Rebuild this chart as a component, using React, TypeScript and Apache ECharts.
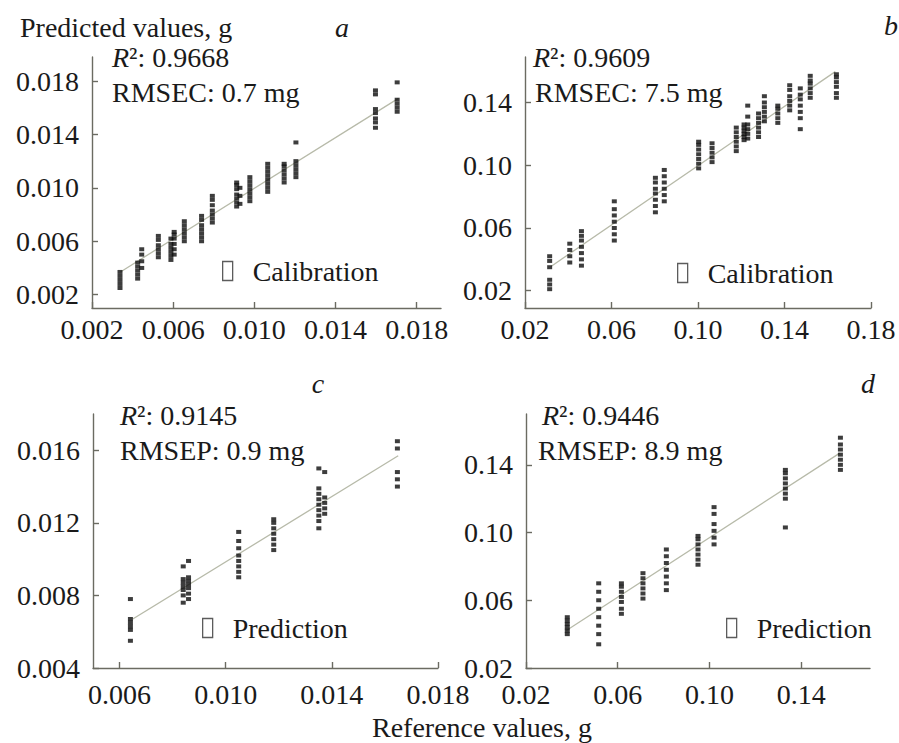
import React, { useEffect, useRef } from 'react';
import * as echarts from 'echarts';

const FONT = '"Liberation Serif", "Times New Roman", Times, serif';
const TEXT = '#1a1a1a';
const AXIS = '#6b6b62';
const DOT = '#0d0d0d';
const FIT = '#b7baa9';

// ---------- Panel a : calibration (g) ----------
const aRef = [0.00338, 0.00425, 0.00445, 0.00527, 0.00589, 0.00605, 0.00655, 0.0074, 0.00793, 0.00913, 0.00929, 0.00978, 0.01066, 0.01147, 0.01205, 0.01597, 0.01704];
const aPred = [
  [0.0025, 0.0028, 0.0031, 0.0034, 0.0037],
  [0.0032, 0.0035, 0.0038, 0.0041, 0.0044],
  [0.0040, 0.0045, 0.0050, 0.0054],
  [0.0048, 0.0051, 0.0054, 0.0057, 0.0061, 0.0064],
  [0.0046, 0.0049, 0.0052, 0.0055, 0.0058, 0.0062],
  [0.0050, 0.0054, 0.0058, 0.0062, 0.0065, 0.0067],
  [0.0060, 0.0063, 0.0066, 0.0069, 0.0072, 0.0075],
  [0.0060, 0.0063, 0.0066, 0.0069, 0.0072, 0.0076, 0.0079],
  [0.0074, 0.0077, 0.0080, 0.0083, 0.0087, 0.0091, 0.0094],
  [0.0086, 0.0089, 0.0092, 0.0095, 0.0099, 0.0102, 0.0104],
  [0.0088, 0.0094, 0.0100],
  [0.0090, 0.0093, 0.0096, 0.0099, 0.0102, 0.0105, 0.0108],
  [0.0097, 0.0100, 0.0103, 0.0106, 0.0109, 0.0112, 0.0115, 0.0118],
  [0.0104, 0.0107, 0.0110, 0.0113, 0.0116, 0.0118],
  [0.0108, 0.0111, 0.0114, 0.0117, 0.0120, 0.0134],
  [0.0145, 0.0149, 0.0152, 0.0156, 0.0159, 0.0170, 0.0173],
  [0.0157, 0.0160, 0.0163, 0.0166, 0.0179],
];
const aFitX = [0.0034, 0.0171];
const aFitY = [0.0037, 0.0167];
const aXTicks = [0.002, 0.006, 0.010, 0.014, 0.018];
const aYTicks = [0.002, 0.006, 0.010, 0.014, 0.018];

// ---------- Panel b : calibration (g) ----------
const bRef = [0.0314, 0.0407, 0.0461, 0.0613, 0.0803, 0.0844, 0.1003, 0.1065, 0.1177, 0.1213, 0.123, 0.128, 0.1307, 0.1369, 0.1424, 0.1473, 0.1519, 0.164];
const bPred = [
  [0.021, 0.024, 0.027, 0.035, 0.039, 0.042],
  [0.038, 0.042, 0.046, 0.050],
  [0.036, 0.040, 0.044, 0.048, 0.052, 0.055, 0.058],
  [0.052, 0.056, 0.060, 0.064, 0.068, 0.072, 0.077],
  [0.070, 0.074, 0.078, 0.082, 0.085, 0.089, 0.092],
  [0.077, 0.081, 0.085, 0.089, 0.093, 0.097],
  [0.098, 0.101, 0.104, 0.107, 0.110, 0.113, 0.115],
  [0.102, 0.105, 0.108, 0.111, 0.114],
  [0.109, 0.112, 0.115, 0.118, 0.121, 0.124],
  [0.116, 0.118, 0.120, 0.122, 0.124, 0.126],
  [0.117, 0.120, 0.123, 0.126, 0.131, 0.138],
  [0.118, 0.121, 0.124, 0.127, 0.130, 0.133],
  [0.128, 0.131, 0.134, 0.137, 0.140, 0.144],
  [0.127, 0.130, 0.133, 0.136, 0.138],
  [0.135, 0.138, 0.141, 0.144, 0.148, 0.151],
  [0.123, 0.130, 0.134, 0.138, 0.142, 0.145, 0.149],
  [0.143, 0.146, 0.149, 0.152, 0.154, 0.157],
  [0.143, 0.146, 0.150, 0.153, 0.156, 0.158],
];
const bFitX = [0.032, 0.1635];
const bFitY = [0.0355, 0.1597];
const bXTicks = [0.02, 0.06, 0.10, 0.14, 0.18];
const bYTicks = [0.02, 0.06, 0.10, 0.14];

// ---------- Panel c : prediction (g) ----------
const cRef = [0.00641, 0.0084, 0.0086, 0.01049, 0.01181, 0.01351, 0.01373, 0.01647];
const cPred = [
  [0.0055, 0.0061, 0.0063, 0.0065, 0.0067, 0.0078],
  [0.0076, 0.0080, 0.0083, 0.0085, 0.0087, 0.0089, 0.0096],
  [0.0078, 0.0081, 0.0084, 0.0086, 0.0088, 0.0090, 0.0099],
  [0.0090, 0.0093, 0.0096, 0.0099, 0.0102, 0.0106, 0.0110, 0.0115],
  [0.0105, 0.0108, 0.0111, 0.0114, 0.0117, 0.0120, 0.0122],
  [0.0117, 0.0121, 0.0124, 0.0127, 0.0130, 0.0133, 0.0136, 0.0139, 0.0150],
  [0.0125, 0.0128, 0.0131, 0.0134, 0.0148],
  [0.0140, 0.0144, 0.0148, 0.0161, 0.0165],
];
const cFitX = [0.0065, 0.0165];
const cFitY = [0.0067, 0.0157];
const cXTicks = [0.006, 0.010, 0.014, 0.018];
const cYTicks = [0.004, 0.008, 0.012, 0.016];

// ---------- Panel d : prediction (g) ----------
const dRef = [0.038, 0.0517, 0.0616, 0.071, 0.0812, 0.095, 0.102, 0.1331, 0.1571];
const dPred = [
  [0.040, 0.042, 0.044, 0.046, 0.048, 0.050],
  [0.034, 0.040, 0.045, 0.050, 0.055, 0.060, 0.065, 0.070],
  [0.052, 0.055, 0.059, 0.062, 0.065, 0.068, 0.070],
  [0.061, 0.064, 0.067, 0.070, 0.073, 0.076],
  [0.066, 0.070, 0.074, 0.078, 0.082, 0.086, 0.090],
  [0.081, 0.084, 0.087, 0.090, 0.093, 0.096, 0.098],
  [0.093, 0.097, 0.101, 0.105, 0.111, 0.115],
  [0.103, 0.120, 0.123, 0.126, 0.129, 0.132, 0.135, 0.137],
  [0.137, 0.140, 0.143, 0.146, 0.149, 0.152, 0.156],
];
const dFitX = [0.0376, 0.1568];
const dFitY = [0.0421, 0.1469];
const dXTicks = [0.02, 0.06, 0.10, 0.14];
const dYTicks = [0.02, 0.06, 0.10, 0.14];

const statsR2 = ['0.9668', '0.9609', '0.9145', '0.9446'];
const statsRmse = ['RMSEC: 0.7 mg', 'RMSEC: 7.5 mg', 'RMSEP: 0.9 mg', 'RMSEP: 8.9 mg'];
const panelLetters = ['a', 'b', 'c', 'd'];
const seriesNames = ['Calibration', 'Calibration', 'Prediction', 'Prediction'];

const toPoints = (refs: number[], preds: number[][]) =>
  refs.flatMap((x, i) => preds[i].map((y) => [x, y]));
const toLine = (xs: number[], ys: number[]) => xs.map((x, i) => [x, ys[i]]);

export default function App() {
  const ref = useRef<HTMLDivElement>(null);

  useEffect(() => {
    if (!ref.current) return;
    const chart = echarts.init(ref.current, undefined, { renderer: 'svg' });

    const panels = [
      {
        grid: { left: 92, top: 57, width: 349, height: 251 },
        x: { min: 0.002, max: 0.0192, ticks: aXTicks, dec: 3, margin: 7 },
        y: { min: 0.001, max: 0.0198, ticks: aYTicks, dec: 3 },
        pts: toPoints(aRef, aPred), fit: toLine(aFitX, aFitY),
        legend: { left: 222, top: 257 },
        r2: { x: 112, y: 57.5 }, rmse: { x: 112, y: 92.5 }, letter: { x: 342, y: 27.5 },
      },
      {
        grid: { left: 525, top: 57, width: 346, height: 251 },
        x: { min: 0.02, max: 0.18, ticks: bXTicks, dec: 2, margin: 7 },
        y: { min: 0.009, max: 0.169, ticks: bYTicks, dec: 2 },
        pts: toPoints(bRef, bPred), fit: toLine(bFitX, bFitY),
        legend: { left: 677, top: 259 },
        r2: { x: 533, y: 57.5 }, rmse: { x: 535, y: 92.5 }, letter: { x: 891, y: 25.5 },
      },
      {
        grid: { left: 93, top: 414, width: 345, height: 254 },
        x: { min: 0.005, max: 0.018, ticks: cXTicks, dec: 3, margin: 12 },
        y: { min: 0.004, max: 0.018, ticks: cYTicks, dec: 3 },
        pts: toPoints(cRef, cPred), fit: toLine(cFitX, cFitY),
        legend: { left: 202, top: 614 },
        r2: { x: 120, y: 415.5 }, rmse: { x: 120, y: 450.5 }, letter: { x: 318, y: 383.5 },
      },
      {
        grid: { left: 526, top: 414, width: 344, height: 254 },
        x: { min: 0.02, max: 0.17, ticks: dXTicks, dec: 2, margin: 12 },
        y: { min: 0.02, max: 0.17, ticks: dYTicks, dec: 2 },
        pts: toPoints(dRef, dPred), fit: toLine(dFitX, dFitY),
        legend: { left: 726, top: 614 },
        r2: { x: 542, y: 415.5 }, rmse: { x: 538, y: 450.5 }, letter: { x: 868, y: 383.5 },
      },
    ];

    const lineStyle = { color: AXIS, width: 1.4 };
    const labelBase = { fontFamily: FONT, fontSize: 28, color: TEXT, showMinLabel: true, showMaxLabel: true, hideOverlap: false };

    const text = (t: string, x: number, y: number, extra: any = {}) => ({
      type: 'text', x, y, silent: true,
      style: { text: t, fontFamily: FONT, fontSize: 28, fill: TEXT, align: 'left', verticalAlign: 'middle', ...extra },
    });

    const graphic: any[] = [
      text('Predicted values, g', 20, 27.5),
      text('Reference values, g', 482, 727.5, { align: 'center' }),
    ];
    panels.forEach((p, i) => {
      graphic.push(text(panelLetters[i], p.letter.x, p.letter.y, { align: 'center', fontStyle: 'italic' }));
      graphic.push(text('{i|R}\u00B2: ' + statsR2[i], p.r2.x, p.r2.y, {
        rich: { i: { fontStyle: 'italic', fontFamily: FONT, fontSize: 28, fill: TEXT } },
      }));
      graphic.push(text(statsRmse[i], p.rmse.x, p.rmse.y));
    });

    const option: any = {
      animation: false,
      backgroundColor: '#ffffff',
      grid: panels.map((p) => ({ ...p.grid, containLabel: false })),
      xAxis: panels.map((p, i) => ({
        type: 'value', gridIndex: i, min: p.x.min, max: p.x.max,
        splitLine: { show: false },
        axisLine: { show: true, onZero: false, lineStyle },
        axisTick: { show: true, inside: true, length: 6, lineStyle, customValues: p.x.ticks },
        axisLabel: { ...labelBase, margin: p.x.margin, customValues: p.x.ticks, formatter: (v: number) => v.toFixed(p.x.dec) },
      })),
      yAxis: panels.map((p, i) => ({
        type: 'value', gridIndex: i, min: p.y.min, max: p.y.max,
        splitLine: { show: false },
        axisLine: { show: true, onZero: false, lineStyle },
        axisTick: { show: true, inside: true, length: 6, lineStyle, customValues: p.y.ticks },
        axisLabel: { ...labelBase, margin: 13, customValues: p.y.ticks, formatter: (v: number) => v.toFixed(p.y.dec) },
      })),
      legend: panels.map((p, i) => ({
        left: p.legend.left, top: p.legend.top, padding: 0,
        itemWidth: 10, itemHeight: 19, itemGap: 0,
        selectedMode: false,
        data: [{
          name: seriesNames[i], icon: 'rect',
          itemStyle: { color: 'rgba(0,0,0,0)', borderColor: '#333', borderWidth: 1.3 },
        }],
        textStyle: { fontFamily: FONT, fontSize: 28, color: TEXT, padding: [0, 0, 0, 15] },
      })),
      series: panels.flatMap((p, i) => [
        {
          type: 'line', name: 'fit ' + panelLetters[i], xAxisIndex: i, yAxisIndex: i,
          data: p.fit, symbol: 'none', silent: true, z: 1,
          lineStyle: { color: FIT, width: 1.3 },
        },
        {
          type: 'scatter', name: seriesNames[i], xAxisIndex: i, yAxisIndex: i,
          data: p.pts, symbol: 'rect', symbolSize: [5, 4], z: 3,
          itemStyle: { color: DOT },
        },
      ]),
      graphic,
    };

    chart.setOption(option);
    return () => chart.dispose();
  }, []);

  return <div ref={ref} style={{ position: 'absolute', left: 0, top: 0, width: 899, height: 743, background: '#fff' }} />;
}
